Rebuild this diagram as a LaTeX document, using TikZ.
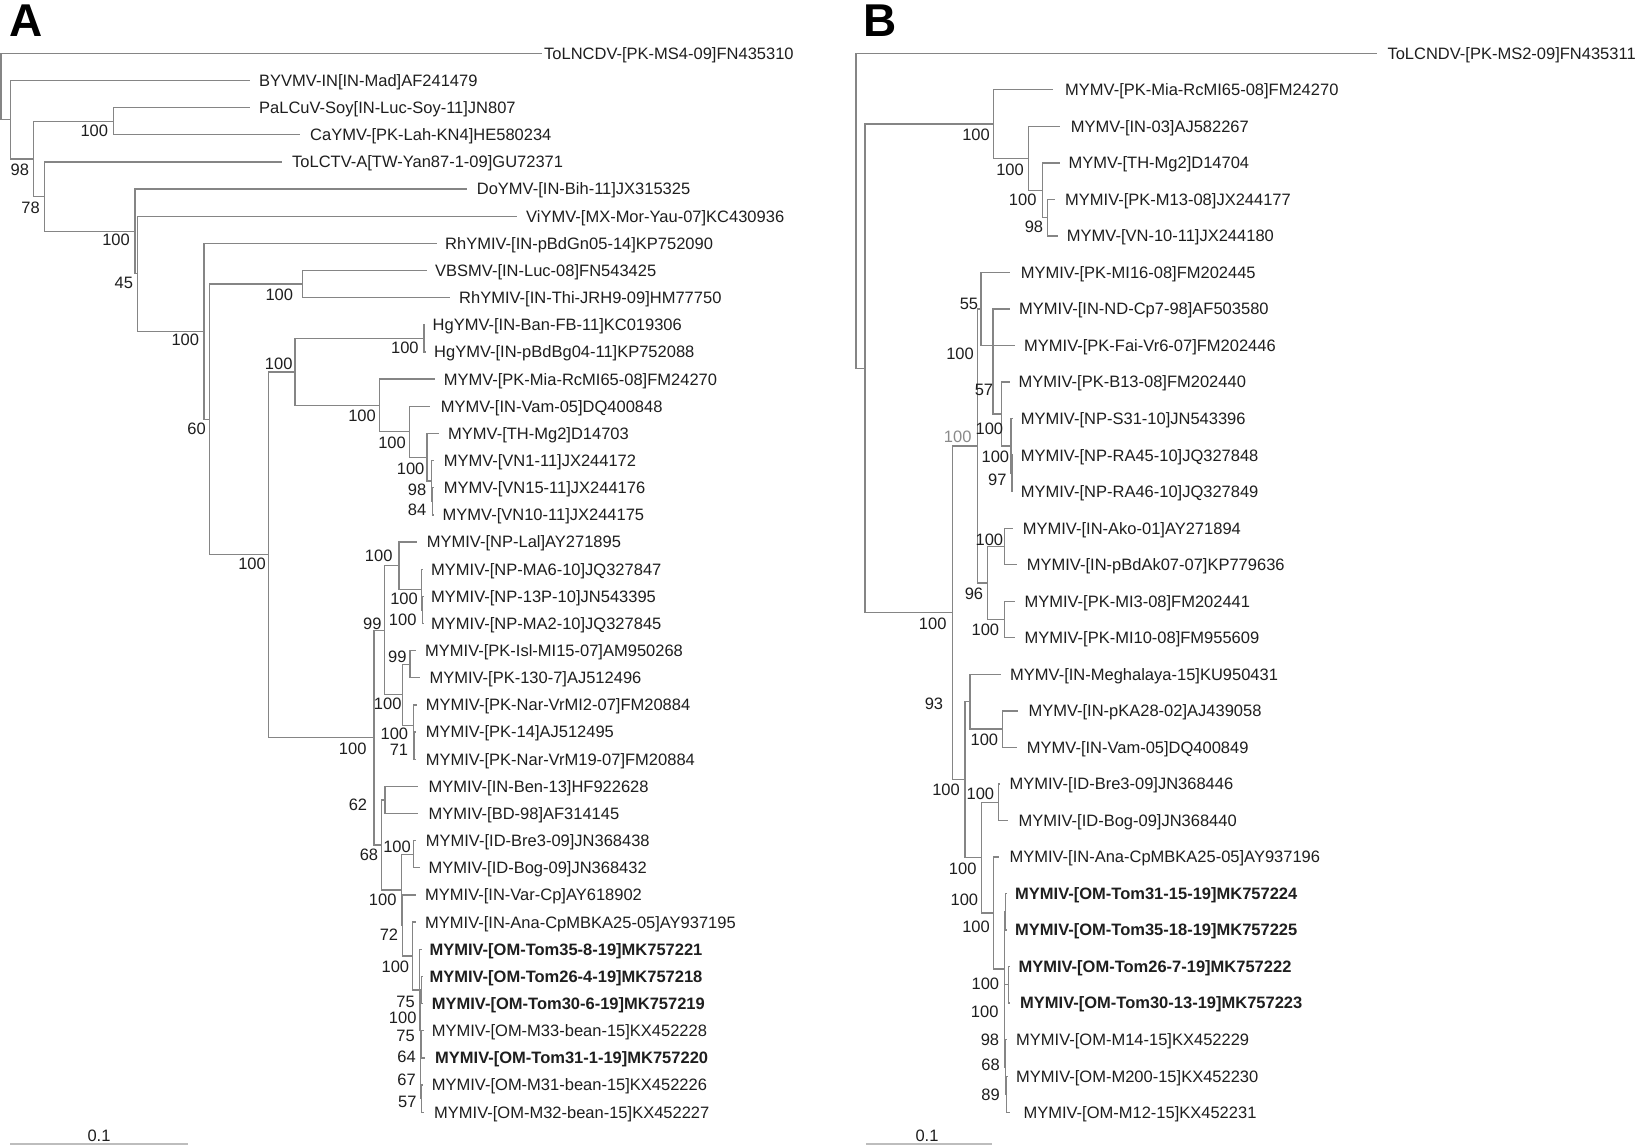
\documentclass[tikz,border=0pt]{standalone}
\usepackage{fontspec}
\setmainfont{Liberation Sans}
\definecolor{brc}{HTML}{858585}
\definecolor{txc}{HTML}{1E1E1E}
\definecolor{gtx}{HTML}{8A8A8A}
\definecolor{sbc}{HTML}{BDBDBD}
\tikzset{
  br/.style={draw=brc, line width=1.3pt},
  lab/.style={text=txc, inner sep=0pt, font=\fontsize{16.5}{19}\selectfont, anchor=base west},
  blab/.style={lab, font=\fontsize{16.5}{19}\selectfont\bfseries},
  bsl/.style={text=txc, inner sep=0pt, font=\fontsize{16.5}{19}\selectfont, anchor=base east},
  scalebar/.style={draw=sbc, line width=2pt},
  panel/.style={text=black, inner sep=0pt, font=\fontsize{46}{50}\selectfont\bfseries, anchor=base west}
}
\newcommand\Lf[5]{\coordinate (#1) at (#2,#3); \node[lab] (#1t) at (#4,#3+5.9) {#5};}
\newcommand\Lfb[5]{\coordinate (#1) at (#2,#3); \node[blab] (#1t) at (#4,#3+5.9) {#5};}
\newcommand\Bs[4]{\node[bsl] (#1) at (#2,#3+5.9) {#4};}
\newcommand\Nd[3]{\coordinate (#1) at (#2,#3);}
\begin{document}
\begin{tikzpicture}[x=1pt,y=-1pt]
\useasboundingbox (0,0) rectangle (1637,1146);
% ---------------- Panel A ----------------
\node[panel] (PA) at (9,36) {A};
\Lf{a0}{541.7}{53.3}{544}{ToLNCDV-[PK-MS4-09]FN435310}
\Lf{a1}{250}{80.45}{259}{BYVMV-IN[IN-Mad]AF241479}
\Lf{a2}{250}{107.6}{259}{PaLCuV-Soy[IN-Luc-Soy-11]JN807}
\Lf{a3}{300}{134.75}{310}{CaYMV-[PK-Lah-KN4]HE580234}
\Lf{a4}{281.7}{161.9}{292}{ToLCTV-A[TW-Yan87-1-09]GU72371}
\Lf{a5}{466.7}{189.05}{476.7}{DoYMV-[IN-Bih-11]JX315325}
\Lf{a6}{516.7}{216.2}{526}{ViYMV-[MX-Mor-Yau-07]KC430936}
\Lf{a7}{436.7}{243.35}{445}{RhYMIV-[IN-pBdGn05-14]KP752090}
\Lf{a8}{426.7}{270.5}{435}{VBSMV-[IN-Luc-08]FN543425}
\Lf{a9}{450}{297.65}{459}{RhYMIV-[IN-Thi-JRH9-09]HM77750}
\Lf{a10}{425}{324.8}{432.5}{HgYMV-[IN-Ban-FB-11]KC019306}
\Lf{a11}{426}{351.95}{434}{HgYMV-[IN-pBdBg04-11]KP752088}
\Lf{a12}{435.4}{379.1}{443.6}{MYMV-[PK-Mia-RcMI65-08]FM24270}
\Lf{a13}{430}{406.25}{440.7}{MYMV-[IN-Vam-05]DQ400848}
\Lf{a14}{439}{433.4}{448}{MYMV-[TH-Mg2]D14703}
\Lf{a15}{433.5}{460.55}{443.6}{MYMV-[VN1-11]JX244172}
\Lf{a16}{433.5}{487.7}{443.6}{MYMV-[VN15-11]JX244176}
\Lf{a17}{433.5}{514.85}{442.5}{MYMV-[VN10-11]JX244175}
\Lf{a18}{416.7}{542.0}{426.7}{MYMIV-[NP-Lal]AY271895}
\Lf{a19}{423}{569.15}{431}{MYMIV-[NP-MA6-10]JQ327847}
\Lf{a20}{423}{596.3}{431}{MYMIV-[NP-13P-10]JN543395}
\Lf{a21}{423}{623.45}{431}{MYMIV-[NP-MA2-10]JQ327845}
\Lf{a22}{415.7}{650.6}{425}{MYMIV-[PK-Isl-MI15-07]AM950268}
\Lf{a23}{420}{677.75}{429.3}{MYMIV-[PK-130-7]AJ512496}
\Lf{a24}{416.7}{704.9}{425.7}{MYMIV-[PK-Nar-VrMI2-07]FM20884}
\Lf{a25}{416}{732.05}{425.7}{MYMIV-[PK-14]AJ512495}
\Lf{a26}{416}{759.2}{425.7}{MYMIV-[PK-Nar-VrM19-07]FM20884}
\Lf{a27}{418.3}{786.35}{428.3}{MYMIV-[IN-Ben-13]HF922628}
\Lf{a28}{418.3}{813.5}{428.3}{MYMIV-[BD-98]AF314145}
\Lf{a29}{415.7}{840.65}{425.7}{MYMIV-[ID-Bre3-09]JN368438}
\Lf{a30}{420}{867.8}{428.3}{MYMIV-[ID-Bog-09]JN368432}
\Lf{a31}{415.7}{894.95}{425}{MYMIV-[IN-Var-Cp]AY618902}
\Lf{a32}{415.7}{922.1}{425}{MYMIV-[IN-Ana-CpMBKA25-05]AY937195}
\Lfb{a33}{422}{949.25}{429.3}{MYMIV-[OM-Tom35-8-19]MK757221}
\Lfb{a34}{423}{976.4}{429.3}{MYMIV-[OM-Tom26-4-19]MK757218}
\Lfb{a35}{423}{1003.55}{431.7}{MYMIV-[OM-Tom30-6-19]MK757219}
\Lf{a36}{423.5}{1030.7}{431.7}{MYMIV-[OM-M33-bean-15]KX452228}
\Lfb{a37}{425}{1057.85}{435}{MYMIV-[OM-Tom31-1-19]MK757220}
\Lf{a38}{423}{1085.0}{431.7}{MYMIV-[OM-M31-bean-15]KX452226}
\Lf{a39}{424}{1112.15}{434}{MYMIV-[OM-M32-bean-15]KX452227}
\Nd{Ar}{1}{86.5}
\Nd{A1}{10.7}{119.7}
\Nd{A2}{33.3}{158.9}
\Nd{Ac}{113.3}{121.2}
\Nd{A3}{44.3}{196.7}
\Nd{A4}{135}{231.4}
\Nd{A5}{137.7}{273.8}
\Nd{A6}{204}{331.4}
\Nd{A7}{209.3}{419.4}
\Nd{A8}{302.6}{284.1}
\Nd{A16}{268.3}{554.8}
\Nd{A9}{295}{371.9}
\Nd{AHg}{424}{338.4}
\Nd{A10}{379.5}{405.4}
\Nd{A11}{409.3}{431.7}
\Nd{A12}{427}{457.2}
\Nd{A13}{431.5}{480.9}
\Nd{A14}{432.5}{501.3}
\Nd{A17}{374}{737.6}
\Nd{A18}{384.3}{630.3}
\Nd{A19}{399}{565.8}
\Nd{A20}{421.7}{589.5}
\Nd{A21}{422.5}{609.9}
\Nd{A22}{402.3}{694.7}
\Nd{A23}{410}{664.2}
\Nd{A24}{413.3}{725.3}
\Nd{A25}{414}{745.6}
\Nd{A27}{381.7}{844.9}
\Nd{A28}{385}{799.9}
\Nd{A29}{401.7}{889.9}
\Nd{A30}{413.3}{854.2}
\Nd{A31}{402.7}{925.5}
\Nd{A32}{412.3}{956}
\Nd{A33}{419.3}{990}
\Nd{A34}{420.3}{1030.7}
\Nd{A35}{421.3}{990}
\Nd{A36}{420.8}{1071.4}
\Nd{A37}{421.3}{1044.3}
\Nd{A38}{421.5}{1098.6}
\foreach \p/\c in {Ar/a0,Ar/A1,A1/a1,A1/A2,A2/Ac,A2/A3,Ac/a2,Ac/a3,A3/a4,A3/A4,
  A4/a5,A4/A5,A5/a6,A5/A6,A6/a7,A6/A7,A7/A8,A7/A16,A8/a8,A8/a9,A16/A9,A16/A17,
  A9/AHg,A9/A10,AHg/a10,AHg/a11,A10/a12,A10/A11,A11/a13,A11/A12,A12/a14,A12/A13,
  A13/a15,A13/A14,A14/a16,A14/a17,A17/A18,A17/A27,A18/A19,A18/A22,A19/a18,A19/A20,
  A20/a19,A20/A21,A21/a20,A21/a21,A22/A23,A22/A24,A23/a22,A23/a23,A24/a24,A24/A25,
  A25/a25,A25/a26,A27/A28,A27/A29,A28/a27,A28/a28,A29/A30,A29/A31,A30/a29,A30/a30,
  A31/a31,A31/A32,A32/a32,A32/A33,A33/a33,A33/A34,A34/A35,A34/A36,A35/a34,A35/a35,
  A36/A37,A36/A38,A37/a36,A37/a37,A38/a38,A38/a39}
  \draw[br] (\p) |- (\c);
% bootstrap A
\Bs{sa1}{29.3}{169.3}{98}
\Bs{sa2}{108.3}{131}{100}
\Bs{sa3}{40}{207.7}{78}
\Bs{sa4}{130}{240}{100}
\Bs{sa5}{133.3}{282.7}{45}
\Bs{sa6}{199.3}{340}{100}
\Bs{sa7}{293.3}{295}{100}
\Bs{sa8}{206}{428.3}{60}
\Bs{sa9}{266}{564}{100}
\Bs{sa10}{292.7}{363.3}{100}
\Bs{sa11}{418.8}{347.7}{100}
\Bs{sa12}{376}{416}{100}
\Bs{sa13}{406}{442.7}{100}
\Bs{sa14}{424.6}{468.3}{100}
\Bs{sa15}{426.4}{490}{98}
\Bs{sa16}{426.4}{510}{84}
\Bs{sa17}{392.7}{555.5}{100}
\Bs{sa18}{381.7}{623.3}{99}
\Bs{sa19}{418}{598.3}{100}
\Bs{sa20}{416.7}{619.3}{100}
\Bs{sa21}{406.7}{656.7}{99}
\Bs{sa22}{401.7}{703.3}{100}
\Bs{sa23}{408.3}{733.3}{100}
\Bs{sa24}{408.3}{750}{71}
\Bs{sa25}{366.7}{748.3}{100}
\Bs{sa26}{367.3}{805}{62}
\Bs{sa27}{411}{846.7}{100}
\Bs{sa28}{378.3}{855}{68}
\Bs{sa29}{396.7}{900}{100}
\Bs{sa30}{398.3}{935}{72}
\Bs{sa31}{409.3}{966.7}{100}
\Bs{sa32}{415}{1001.7}{75}
\Bs{sa33}{416.7}{1017.3}{100}
\Bs{sa34}{415}{1035.7}{75}
\Bs{sa35}{416}{1056.7}{64}
\Bs{sa36}{416}{1080}{67}
\Bs{sa37}{416.7}{1101.7}{57}
% scale bar A
\coordinate (sA1) at (10,1144);
\coordinate (sA2) at (188,1144);
\draw[scalebar] (sA1) -- (sA2);
\node[lab, anchor=base] (sAt) at (99,1141) {0.1};
% ---------------- Panel B ----------------
\node[panel] (PB) at (863,36) {B};
\Lf{b0}{1376.7}{53.3}{1387.3}{ToLCNDV-[PK-MS2-09]FN435311}
\Lf{b1}{1053.3}{89.83}{1065}{MYMV-[PK-Mia-RcMI65-08]FM24270}
\Lf{b2}{1060}{126.36}{1070.7}{MYMV-[IN-03]AJ582267}
\Lf{b3}{1060}{162.89}{1068.3}{MYMV-[TH-Mg2]D14704}
\Lf{b4}{1055}{199.42}{1065}{MYMIV-[PK-M13-08]JX244177}
\Lf{b5}{1058.3}{235.95}{1066.7}{MYMV-[VN-10-11]JX244180}
\Lf{b6}{1010}{272.48}{1020.7}{MYMIV-[PK-MI16-08]FM202445}
\Lf{b7}{1010}{309.01}{1019}{MYMIV-[IN-ND-Cp7-98]AF503580}
\Lf{b8}{1015}{345.54}{1024}{MYMIV-[PK-Fai-Vr6-07]FM202446}
\Lf{b9}{1010}{382.07}{1018.3}{MYMIV-[PK-B13-08]FM202440}
\Lf{b10}{1013}{418.6}{1020.7}{MYMIV-[NP-S31-10]JN543396}
\Lf{b11}{1013}{455.13}{1020.7}{MYMIV-[NP-RA45-10]JQ327848}
\Lf{b12}{1013}{491.66}{1020.7}{MYMIV-[NP-RA46-10]JQ327849}
\Lf{b13}{1013.3}{528.19}{1022.7}{MYMIV-[IN-Ako-01]AY271894}
\Lf{b14}{1016.7}{564.72}{1026.7}{MYMIV-[IN-pBdAk07-07]KP779636}
\Lf{b15}{1015}{601.25}{1024.3}{MYMIV-[PK-MI3-08]FM202441}
\Lf{b16}{1015}{637.78}{1024.3}{MYMIV-[PK-MI10-08]FM955609}
\Lf{b17}{1000.7}{674.31}{1010}{MYMV-[IN-Meghalaya-15]KU950431}
\Lf{b18}{1018.3}{710.84}{1028.3}{MYMV-[IN-pKA28-02]AJ439058}
\Lf{b19}{1016.7}{747.37}{1026.7}{MYMV-[IN-Vam-05]DQ400849}
\Lf{b20}{1000}{783.9}{1009.3}{MYMIV-[ID-Bre3-09]JN368446}
\Lf{b21}{1008.3}{820.43}{1018.3}{MYMIV-[ID-Bog-09]JN368440}
\Lf{b22}{999.3}{856.96}{1009.3}{MYMIV-[IN-Ana-CpMBKA25-05]AY937196}
\Lfb{b23}{1007}{893.49}{1015}{MYMIV-[OM-Tom31-15-19]MK757224}
\Lfb{b24}{1007}{930.02}{1015}{MYMIV-[OM-Tom35-18-19]MK757225}
\Lfb{b25}{1010}{966.55}{1018.3}{MYMIV-[OM-Tom26-7-19]MK757222}
\Lfb{b26}{1010}{1003.08}{1020}{MYMIV-[OM-Tom30-13-19]MK757223}
\Lf{b27}{1007}{1039.61}{1016}{MYMIV-[OM-M14-15]KX452229}
\Lf{b28}{1007}{1076.14}{1016}{MYMIV-[OM-M200-15]KX452230}
\Lf{b29}{1010}{1112.67}{1023.3}{MYMIV-[OM-M12-15]KX452231}
\Nd{Br}{856}{210.9}
\Nd{B1}{865}{368.5}
\Nd{B2}{993.3}{124.1}
\Nd{B3}{1028.3}{158.3}
\Nd{B4}{1042.7}{190.3}
\Nd{B5}{1047.7}{217.7}
\Nd{B16}{952.7}{612.8}
\Nd{B13}{977.7}{446}
\Nd{B14}{981}{309}
\Nd{B9}{993}{345.5}
\Nd{B10}{1001.7}{414}
\Nd{B11}{1011}{446}
\Nd{B12}{1012}{473.4}
\Nd{B17}{987.3}{583}
\Nd{B18}{1004.3}{546.5}
\Nd{B19}{1004.3}{619.5}
\Nd{B20}{965}{779.6}
\Nd{B21}{970}{701.7}
\Nd{B22}{1002.7}{729.1}
\Nd{B23}{981.7}{857.6}
\Nd{B24}{998.3}{802.2}
\Nd{B25}{993.3}{912.9}
\Nd{B26}{1004.3}{968.9}
\Nd{B27}{1005.7}{911.8}
\Nd{B28}{1008.3}{984.8}
\Nd{B29}{1004.8}{1025.9}
\Nd{B30}{1005.5}{1067}
\Nd{B31}{1006.5}{1094.4}
\foreach \p/\c in {Br/b0,Br/B1,B1/B2,B1/B16,B2/b1,B2/B3,B3/b2,B3/B4,B4/b3,B4/B5,
  B5/b4,B5/b5,B16/B13,B16/B20,B13/B14,B13/B17,B14/b6,B14/B9,B9/b7,B9/b8,B9/B10,
  B10/b9,B10/B11,B11/b10,B11/B12,B12/b11,B12/b12,B17/B18,B17/B19,B18/b13,B18/b14,
  B19/b15,B19/b16,B20/B21,B20/B23,B21/b17,B21/B22,B22/b18,B22/b19,B23/B24,B23/B25,
  B24/b20,B24/b21,B25/b22,B25/B26,B26/B27,B26/B29,B27/b23,B27/b24,B29/B28,B29/B30,
  B28/b25,B28/b26,B30/b27,B30/B31,B31/b28,B31/b29}
  \draw[br] (\p) |- (\c);
% bootstrap B
\Bs{sb1}{990}{134.3}{100}
\Bs{sb2}{1024}{169.3}{100}
\Bs{sb3}{1036.7}{200}{100}
\Bs{sb4}{1043.3}{226.7}{98}
\Bs{sb5}{978.3}{303.3}{55}
\Bs{sb6}{974}{353.3}{100}
\Bs{sb7}{993.3}{390}{57}
\node[bsl, text=gtx] (sb8) at (971.7,436.7+5.9) {100};
\Bs{sb9}{1003.3}{428.3}{100}
\Bs{sb10}{1009.3}{456.7}{100}
\Bs{sb11}{1006.7}{480}{97}
\Bs{sb12}{1003.3}{539.3}{100}
\Bs{sb13}{983.3}{593.3}{96}
\Bs{sb14}{999.3}{629.3}{100}
\Bs{sb15}{946.7}{623.3}{100}
\Bs{sb16}{943.3}{703.3}{93}
\Bs{sb17}{998.3}{739.3}{100}
\Bs{sb18}{960}{790}{100}
\Bs{sb19}{994.3}{794}{100}
\Bs{sb20}{976.7}{868.3}{100}
\Bs{sb21}{978.3}{900}{100}
\Bs{sb22}{990}{926.7}{100}
\Bs{sb23}{999.3}{983.3}{100}
\Bs{sb24}{998.7}{1011.7}{100}
\Bs{sb25}{999.3}{1039.3}{98}
\Bs{sb26}{1000}{1065}{68}
\Bs{sb27}{1000}{1095}{89}
% scale bar B
\coordinate (sB1) at (866,1144);
\coordinate (sB2) at (991.7,1144);
\draw[scalebar] (sB1) -- (sB2);
\node[lab, anchor=base] (sBt) at (927,1141) {0.1};
\end{tikzpicture}
\end{document}
